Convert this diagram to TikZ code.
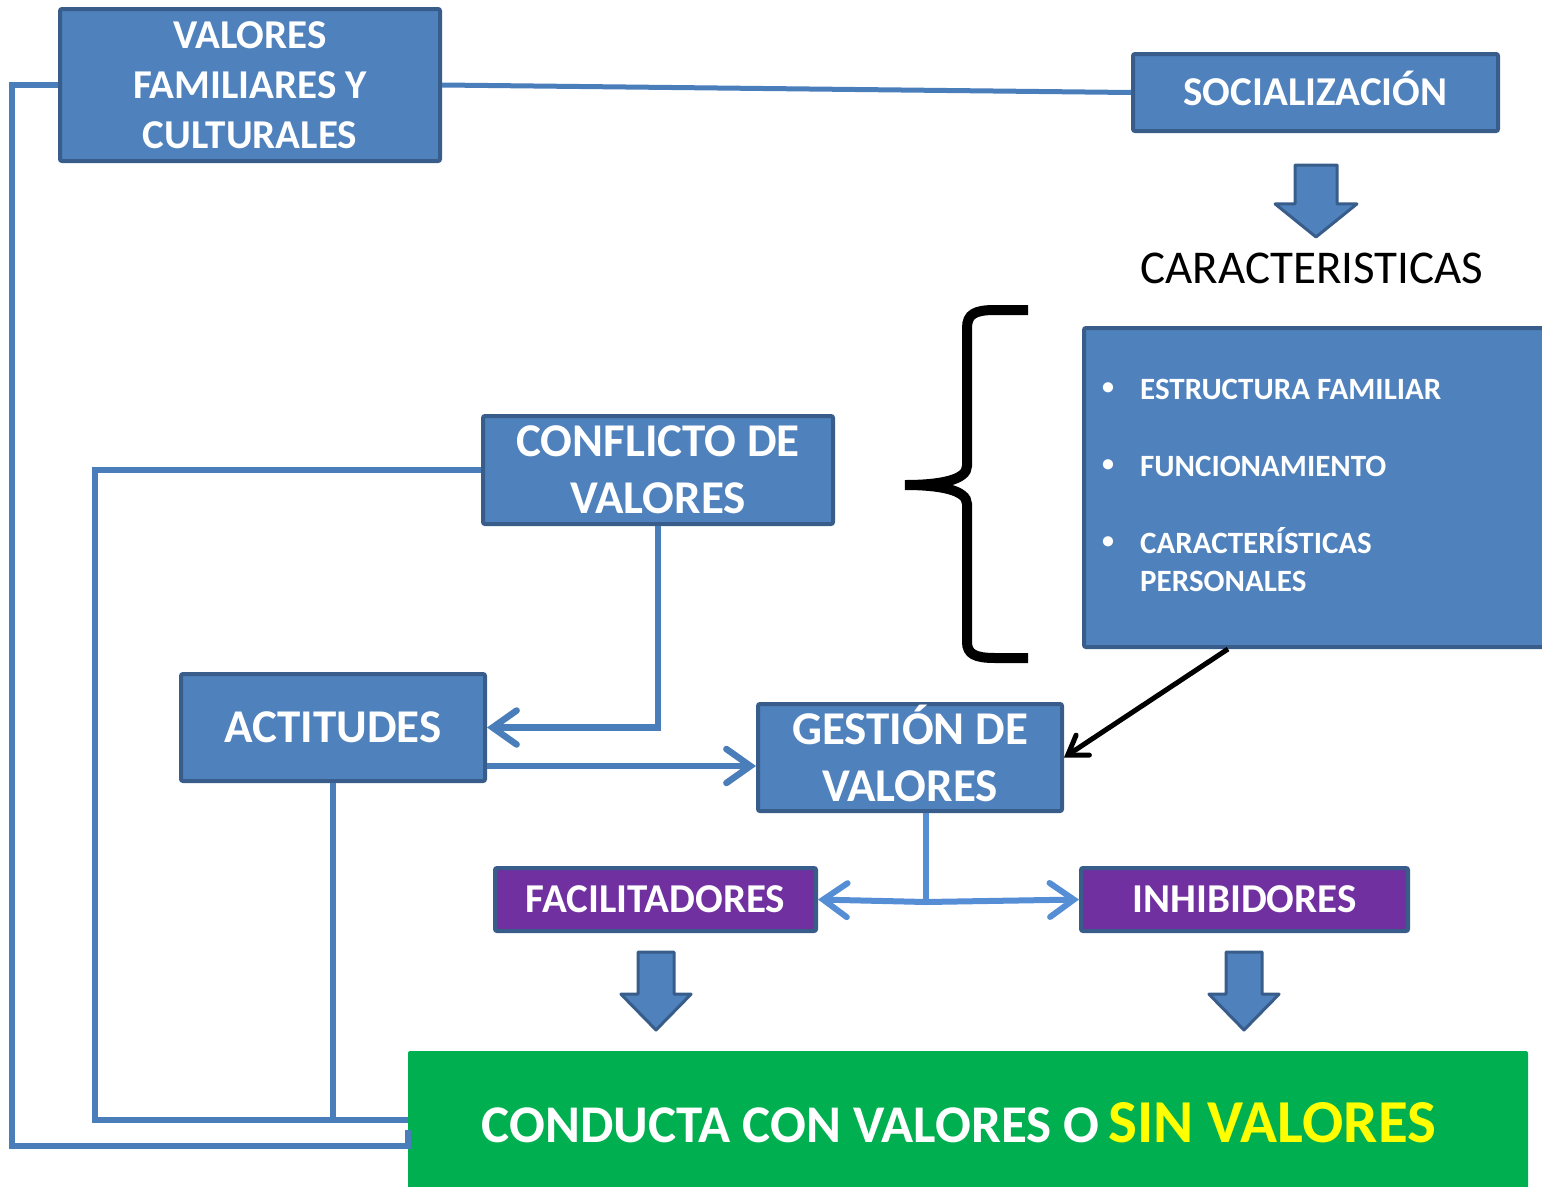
\documentclass[tikz,border=0pt]{standalone}
\usepackage{fontspec}
\setmainfont{Carlito}
\usepackage{tikz}
\usetikzlibrary{arrows.meta}
\definecolor{boxblue}{HTML}{4F81BD}
\definecolor{edgeblue}{HTML}{385D8A}
\definecolor{wireblue}{HTML}{4A7EBB}
\definecolor{splitblue}{HTML}{558ED5}
\definecolor{boxpurple}{HTML}{7030A0}
\definecolor{boxgreen}{HTML}{00B050}
\definecolor{signyellow}{HTML}{FFFF00}
% block arrow: centre x, top y, half shaft width, drop to tip
\providecommand{\downblock}[4]{\filldraw[fill=boxblue,draw=edgeblue,line width=3pt,line join=round] (#1-#3,#2) -- (#1+#3,#2) -- (#1+#3,#2+0.54*#4) -- (#1+1.95*#3,#2+0.54*#4) -- (#1,#2+#4) -- (#1-1.95*#3,#2+0.54*#4) -- (#1-#3,#2+0.54*#4) -- cycle;}

\begin{document}
\begin{tikzpicture}[x=1pt,y=-1pt,
  bluebox/.style={draw=edgeblue,fill=boxblue,line width=4pt,rounded corners=2pt,text=white,align=center,inner sep=0pt},
  purplebox/.style={bluebox,fill=boxpurple},
  bigtext/.style={font=\fontsize{47}{57}\selectfont\bfseries},
  midtext/.style={font=\fontsize{41}{50}\selectfont\bfseries},
  itemtext/.style={text=white,inner sep=0pt,align=left,font=\fontsize{31}{38}\selectfont\bfseries},
  dottext/.style={text=white,inner sep=0pt,font=\fontsize{24}{24}\selectfont\bfseries},
  wire/.style={draw=wireblue,line width=6.5pt},
  splitwire/.style={draw=splitblue,line width=6pt},
  chev/.style={-{Straight Barb[length=24pt,width=34pt,line cap=round]}},
  pointer/.style={draw=black,line width=5pt,-{Straight Barb[length=18pt,width=24pt,line cap=round]}}]
\useasboundingbox (0.000000, 0.000000) rectangle (1542.000000, 1186.000000);
% Drawing boxes
\node[bluebox,midtext,minimum width=380pt,minimum height=152pt] (valfam) at (250.000000, 85.000000) {VALORES\\FAMILIARES Y\\CULTURALES};
\node[bluebox,midtext,minimum width=365pt,minimum height=77pt] (social) at (1315.500000, 92.500000) {SOCIALIZACI\smash{Ó}N};
\node[font=\fontsize{47}{50}\selectfont] (caract) at (1312.000000, 268.000000) {CARACTERISTICAS};
\node[bluebox,minimum width=480pt,minimum height=319pt,anchor=north west] (caracbox) at (1082.000000, 326.000000) {};
\node[bluebox,bigtext,minimum width=350pt,minimum height=108pt] (conflicto) at (658.000000, 470.000000) {CONFLICTO DE\\VALORES};
\node[bluebox,bigtext,minimum width=304pt,minimum height=107pt] (actitudes) at (333.000000, 727.500000) {ACTITUDES};
\node[bluebox,bigtext,minimum width=304pt,minimum height=107pt] (gestion) at (910.000000, 757.500000) {GESTI\smash{Ó}N DE\\VALORES};
\node[purplebox,midtext,minimum width=321pt,minimum height=63pt] (facil) at (655.500000, 899.500000) {FACILITADORES};
\node[purplebox,midtext,minimum width=327pt,minimum height=63pt] (inhib) at (1244.500000, 899.500000) {INHIBIDORES};
\node[fill=boxgreen,rounded corners=2pt,minimum width=1120pt,minimum height=144pt,text=white,font=\bfseries] (conducta) at (968.000000, 1123.000000) {\fontsize{53}{60}\selectfont CONDUCTA CON VALORES O\hspace{0.18em}\textcolor{signyellow}{\fontsize{61}{60}\selectfont SIN VALORES}\rule{18pt}{0pt}};
% Done with boxes; drawing list items
\node[dottext] (dot1) at (1108.000000, 389.000000) {\textbullet};
\node[dottext] (dot2) at (1108.000000, 466.000000) {\textbullet};
\node[dottext] (dot3) at (1108.000000, 543.000000) {\textbullet};
\node[itemtext,anchor=west] (item1) at (1140.000000, 389.000000) {ESTRUCTURA FAMILIAR};
\node[itemtext,anchor=west] (item2) at (1140.000000, 466.000000) {FUNCIONAMIENTO};
\node[itemtext,anchor=west] (item3) at (1140.000000, 562.000000) {CARACTER\smash{Í}STICAS\\PERSONALES};
% Brace
\draw[black,line width=10pt] (1028.000000, 310.000000) -- (995.000000, 310.000000) .. controls (975.000000, 310.000000) and (967.000000, 314.000000) .. (967.000000, 328.000000) -- (967.000000, 466.000000) .. controls (967.000000, 480.000000) and (940.000000, 485.000000) .. (905.000000, 485.000000) .. controls (940.000000, 485.000000) and (967.000000, 490.000000) .. (967.000000, 504.000000) -- (967.000000, 642.000000) .. controls (967.000000, 654.000000) and (975.000000, 658.000000) .. (995.000000, 658.000000) -- (1028.000000, 658.000000);
% Block arrows
\downblock{1316}{165}{21}{72}
\downblock{656}{952}{18}{78}
\downblock{1244}{952}{18}{78}
% Drawing wires
\draw[wire,line width=5pt] (valfam.east) -- (social.west);
\draw[wire] (valfam.west) -- (12.000000, 85.000000) |- (conducta.west |- 0,1146) -- (conducta.west |- 0,1130);
\draw[wire] (conflicto.west) -| (95.000000, 1120.000000) -- (conducta.west |- 0,1120);
\draw[wire] (actitudes.south) -- (actitudes.south |- 0,1120);
\draw[wire,chev] (conflicto.south) |- (actitudes.east);
\draw[wire,chev] (actitudes.east |- 0,766) -- (gestion.west |- 0,766);
\coordinate (split) at (926.000000, 902.000000);
\draw[splitwire] (gestion.south -| split) -- (split);
\draw[splitwire,chev] (split) -- (facil.east);
\draw[splitwire,chev] (split) -- (inhib.west);
\draw[pointer] (caracbox.south -| 1228,0) -- (gestion.east);
% Done with wires
\end{tikzpicture}
\end{document}
